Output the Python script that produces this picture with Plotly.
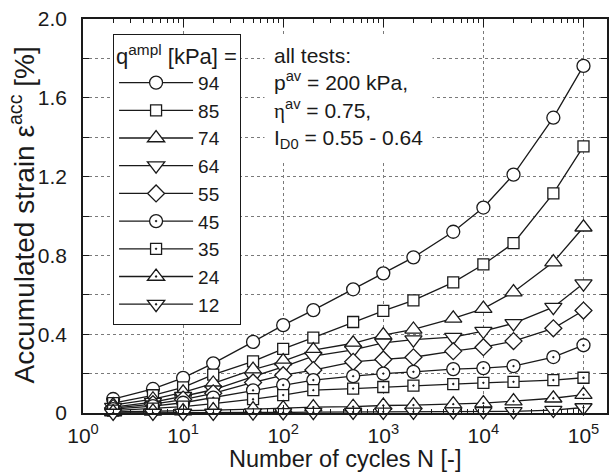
import plotly.graph_objects as go

# ---- data ----
N = [2, 5, 10, 20, 50, 100, 200, 500, 1000, 2000, 5000, 10000, 20000, 50000, 100000]
q_ampl = ["94", "85", "74", "64", "55", "45", "35", "24", "12"]

eps_94 = [0.071, 0.122, 0.178, 0.252, 0.361, 0.446, 0.522, 0.628, 0.709, 0.790, 0.920, 1.043, 1.210, 1.499, 1.762]
eps_85 = [0.050, 0.090, 0.130, 0.195, 0.262, 0.326, 0.383, 0.462, 0.518, 0.572, 0.663, 0.754, 0.862, 1.115, 1.353]
eps_74 = [0.040, 0.070, 0.105, 0.150, 0.220, 0.263, 0.319, 0.354, 0.395, 0.424, 0.480, 0.530, 0.614, 0.766, 0.943]
eps_64 = [0.030, 0.055, 0.085, 0.118, 0.185, 0.234, 0.289, 0.320, 0.356, 0.372, 0.385, 0.416, 0.455, 0.537, 0.657]
eps_55 = [0.025, 0.045, 0.068, 0.100, 0.155, 0.192, 0.218, 0.260, 0.272, 0.283, 0.314, 0.334, 0.365, 0.430, 0.520]
eps_45 = [0.020, 0.035, 0.052, 0.078, 0.115, 0.142, 0.167, 0.187, 0.200, 0.209, 0.223, 0.228, 0.238, 0.284, 0.344]
eps_35 = [0.012, 0.022, 0.032, 0.048, 0.070, 0.091, 0.116, 0.124, 0.132, 0.139, 0.147, 0.153, 0.158, 0.167, 0.179]
eps_24 = [0.005, 0.008, 0.010, 0.015, 0.020, 0.025, 0.030, 0.032, 0.038, 0.040, 0.045, 0.050, 0.060, 0.075, 0.093]
eps_12 = [0.000, 0.000, 0.000, 0.000, 0.002, 0.003, 0.004, 0.005, 0.006, 0.006, 0.007, 0.008, 0.008, 0.015, 0.028]

series = [eps_94, eps_85, eps_74, eps_64, eps_55, eps_45, eps_35, eps_24, eps_12]
symbols = ["circle", "square", "triangle-up", "triangle-down", "diamond",
           "circle-dot", "square-dot", "triangle-up-dot", "triangle-down-dot"]
sizes = [13, 11, 15, 15, 13, 13, 11, 15, 15]

x_tickvals = [1, 10, 100, 1000, 10000, 100000]
x_ticktext = ["10<sup>0</sup>", "10<sup>1</sup>", "10<sup>2</sup>",
              "10<sup>3</sup>", "10<sup>4</sup>", "10<sup>5</sup>"]
x_minor = [k * 10 ** d for d in range(0, 6) for k in range(2, 10)]
y_tickvals = [0, 0.2, 0.4, 0.6, 0.8, 1.0, 1.2, 1.4, 1.6, 1.8, 2.0]
y_ticktext = ["0", "", "0.4", "", "0.8", "", "1.2", "", "1.6", "", "2.0"]

x_title = "Number of cycles N [-]"
y_title = "Accumulated strain \u03b5<sup>acc</sup> [%]"

FONT = "Liberation Sans, Arial, sans-serif"
INK = "#1a1a1a"

fig = go.Figure()
for name, vals, sym, sz in zip(q_ampl, series, symbols, sizes):
    fig.add_trace(go.Scatter(
        x=N, y=vals, name=name, mode="lines+markers",
        line=dict(color=INK, width=1.3),
        marker=dict(symbol=sym, size=sz, color="white",
                    line=dict(color=INK, width=1.3)),
        cliponaxis=False,
    ))

axis_common = dict(
    showline=True, linecolor=INK, linewidth=1.5, mirror="ticks",
    ticks="inside", tickcolor=INK, tickwidth=1,
    showgrid=True, gridcolor="#7a7a7a", griddash="dot", gridwidth=1,
    zeroline=False,
)

fig.update_xaxes(
    type="log", range=[0, 5.235],
    tickmode="array", tickvals=x_tickvals, ticktext=x_ticktext, ticklen=8,
    minor=dict(tickmode="array", tickvals=x_minor, ticks="inside", ticklen=4,
               tickcolor=INK, showgrid=False),
    tickfont=dict(family=FONT, size=21, color=INK),
    ticklabelstandoff=3,
    **axis_common,
)
fig.update_yaxes(
    range=[0, 2.0],
    tickmode="array", tickvals=y_tickvals, ticktext=y_ticktext, ticklen=6,
    tickfont=dict(family=FONT, size=21, color=INK),
    ticklabelstandoff=10,
    **axis_common,
)

# axis titles
fig.add_annotation(
    xref="paper", yref="paper", x=0.5, y=-0.118, xanchor="center", yanchor="middle",
    text=x_title, showarrow=False, font=dict(family=FONT, size=23.5, color=INK),
)
fig.add_annotation(
    xref="paper", yref="paper", x=-0.116, y=0.502, xanchor="center", yanchor="middle",
    text=y_title, textangle=-90, showarrow=False, font=dict(family=FONT, size=28, color=INK),
)

fig.add_annotation(
    xref="paper", yref="paper", x=0.345, y=0.962, xanchor="left", yanchor="top",
    text=("all tests:<br>p<sup>av</sup> = 200 kPa,<br>"
          "<span style='font-family:Liberation Serif'>\u03b7</span><sup>av</sup> = 0.75,<br>"
          "I<sub>D0</sub> = 0.55 - 0.64"),
    align="left", showarrow=False, bgcolor="white", borderpad=9,
    font=dict(family=FONT, size=21, color=INK),
)

fig.update_layout(
    width=611, height=475,
    margin=dict(l=83, r=2, t=19, b=62),
    paper_bgcolor="white", plot_bgcolor="white",
    font=dict(family=FONT, color=INK),
    showlegend=True,
    legend=dict(
        x=0.057, y=0.962, xanchor="left", yanchor="top",
        bgcolor="white", bordercolor=INK, borderwidth=1.2,
        font=dict(family=FONT, size=19, color=INK),
        title=dict(text="q<sup>ampl</sup> [kPa] =", font=dict(family=FONT, size=22, color=INK)),
        itemwidth=74,
        tracegroupgap=0,
    ),
)

fig.write_html("out.html")
